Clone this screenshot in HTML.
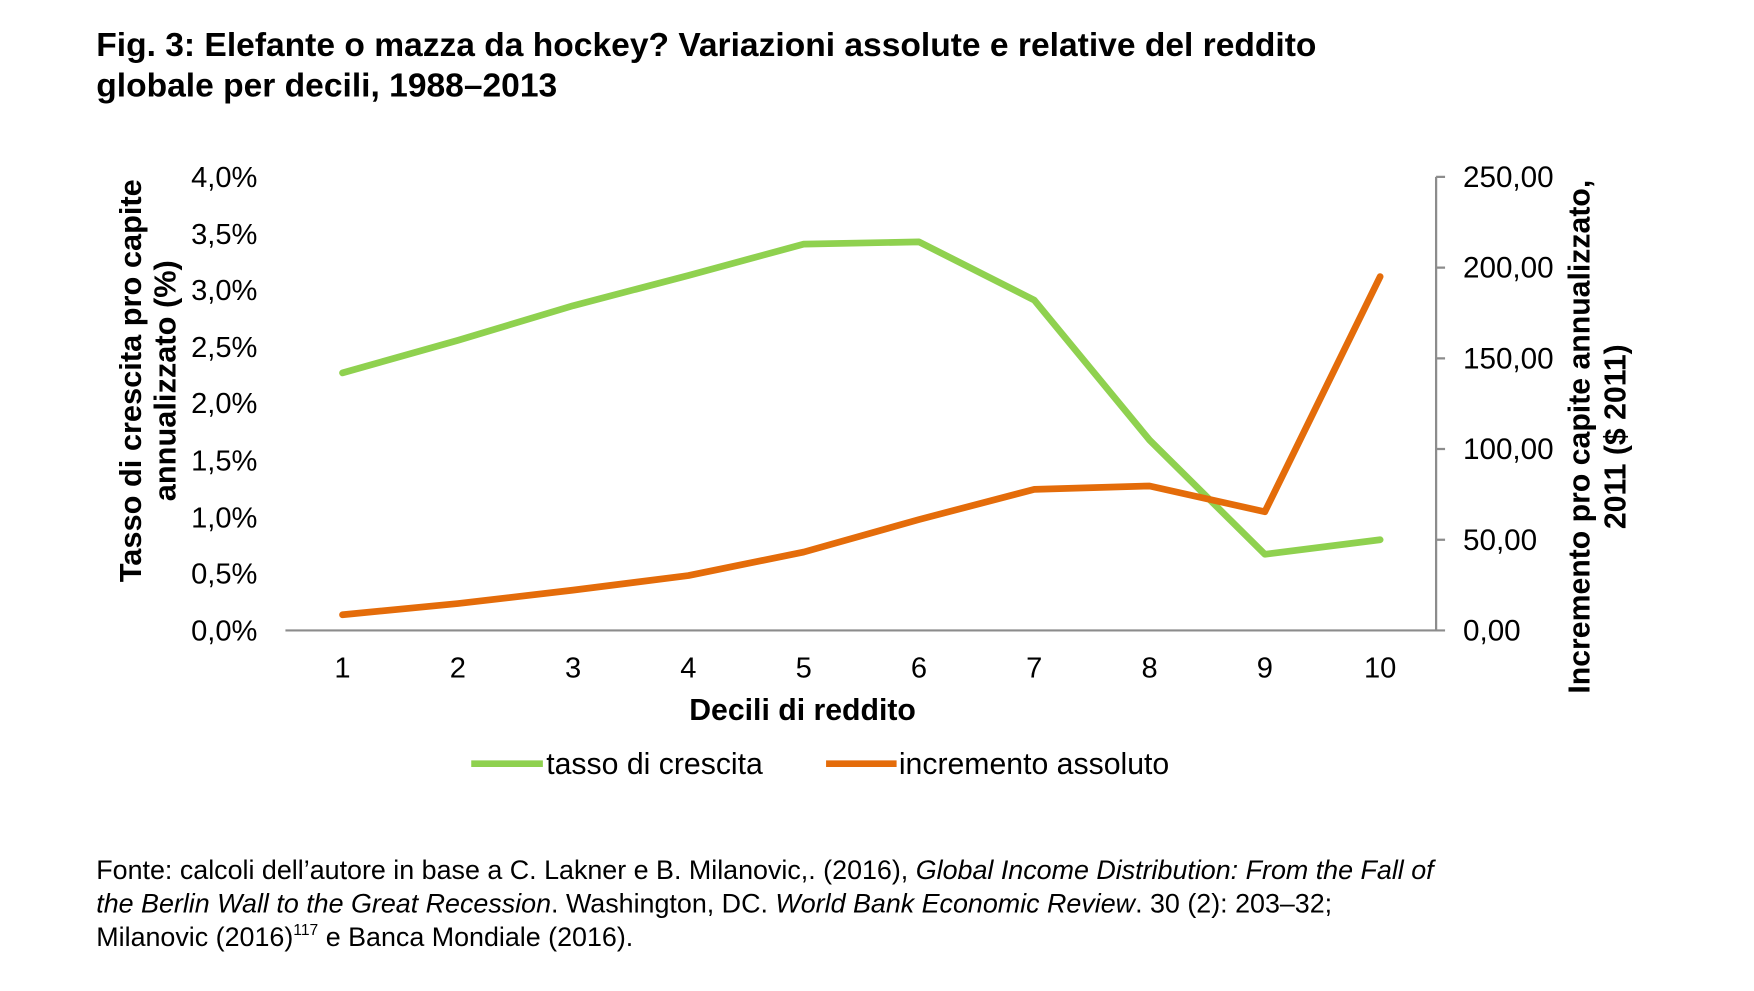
<!DOCTYPE html><html><head><style>body{margin:0;background:#fff}svg{display:block}</style></head><body>
<svg width="1754" height="991" viewBox="0 0 1567 885" preserveAspectRatio="none" font-family="Liberation Sans, Arial, sans-serif">
<text x="86" y="50" font-size="30" font-weight="bold">Fig. 3: Elefante o mazza da hockey? Variazioni assolute e relative del reddito</text>
<text x="86" y="86" font-size="30" font-weight="bold">globale per decili, 1988–2013</text>
<g font-size="26" text-anchor="end">
<text x="230" y="167">4,0%</text><text x="230" y="218">3,5%</text><text x="230" y="268">3,0%</text><text x="230" y="319">2,5%</text><text x="230" y="369">2,0%</text><text x="230" y="420">1,5%</text><text x="230" y="471">1,0%</text><text x="230" y="521">0,5%</text><text x="230" y="572">0,0%</text>
</g>
<g font-size="26.5">
<text x="1307" y="167">250,00</text><text x="1307" y="248">200,00</text><text x="1307" y="329">150,00</text><text x="1307" y="410">100,00</text><text x="1307" y="491">50,00</text><text x="1307" y="572">0,00</text>
</g>
<g stroke="#8c8c8c" stroke-width="2" fill="none">
<path d="M255 563H1291M1283 158V563M1283 158h8M1283 239h8M1283 320h8M1283 401h8M1283 482h8"/>
</g>
<g font-size="26" text-anchor="middle">
<text x="306" y="605">1</text><text x="409" y="605">2</text><text x="512" y="605">3</text><text x="615" y="605">4</text><text x="718" y="605">5</text><text x="821" y="605">6</text><text x="924" y="605">7</text><text x="1027" y="605">8</text><text x="1130" y="605">9</text><text x="1233" y="605">10</text>
<text x="717" y="643" font-size="27" font-weight="bold">Decili di reddito</text>
<text transform="translate(126,340) rotate(-90)" font-size="27.5" font-weight="bold">Tasso di crescita pro capite</text>
<text transform="translate(157,340) rotate(-90)" font-size="27.5" font-weight="bold">annualizzato (%)</text>
<text transform="translate(1420,390) rotate(-90)" font-size="27" font-weight="bold">Incremento pro capite annualizzato,</text>
<text transform="translate(1452,390) rotate(-90)" font-size="27" font-weight="bold">2011 ($ 2011)</text>
</g>
<polyline fill="none" stroke="#8fd14f" stroke-width="6" stroke-linejoin="round" stroke-linecap="round" points="306,333 409,304 512,273 615,246 718,218 821,216 924,268 1027,393 1130,495 1233,482"/>
<polyline fill="none" stroke="#e46c0a" stroke-width="6" stroke-linejoin="round" stroke-linecap="round" points="306,549 409,539 512,527 615,514 718,493 821,464 924,437 1027,434 1130,457 1233,247"/>
<line x1="421" y1="682" x2="485" y2="682" stroke="#8fd14f" stroke-width="6"/>
<text x="488" y="691" font-size="27">tasso di crescita</text>
<line x1="738" y1="682" x2="801" y2="682" stroke="#e46c0a" stroke-width="6"/>
<text x="803" y="691" font-size="27">incremento assoluto</text>
<g font-size="24">
<text x="86" y="785">Fonte: calcoli dell’autore in base a C. Lakner e B. Milanovic,. (2016), <tspan font-style="italic">Global Income Distribution: From the Fall of</tspan></text>
<text x="86" y="815"><tspan font-style="italic">the Berlin Wall to the Great Recession</tspan>. Washington, DC. <tspan font-style="italic">World Bank Economic Review</tspan>. 30 (2): 203–32;</text>
<text x="86" y="845">Milanovic (2016)<tspan font-size="14" dy="-10">117</tspan><tspan dy="10"> e Banca Mondiale (2016).</tspan></text>
</g>
</svg></body></html>
